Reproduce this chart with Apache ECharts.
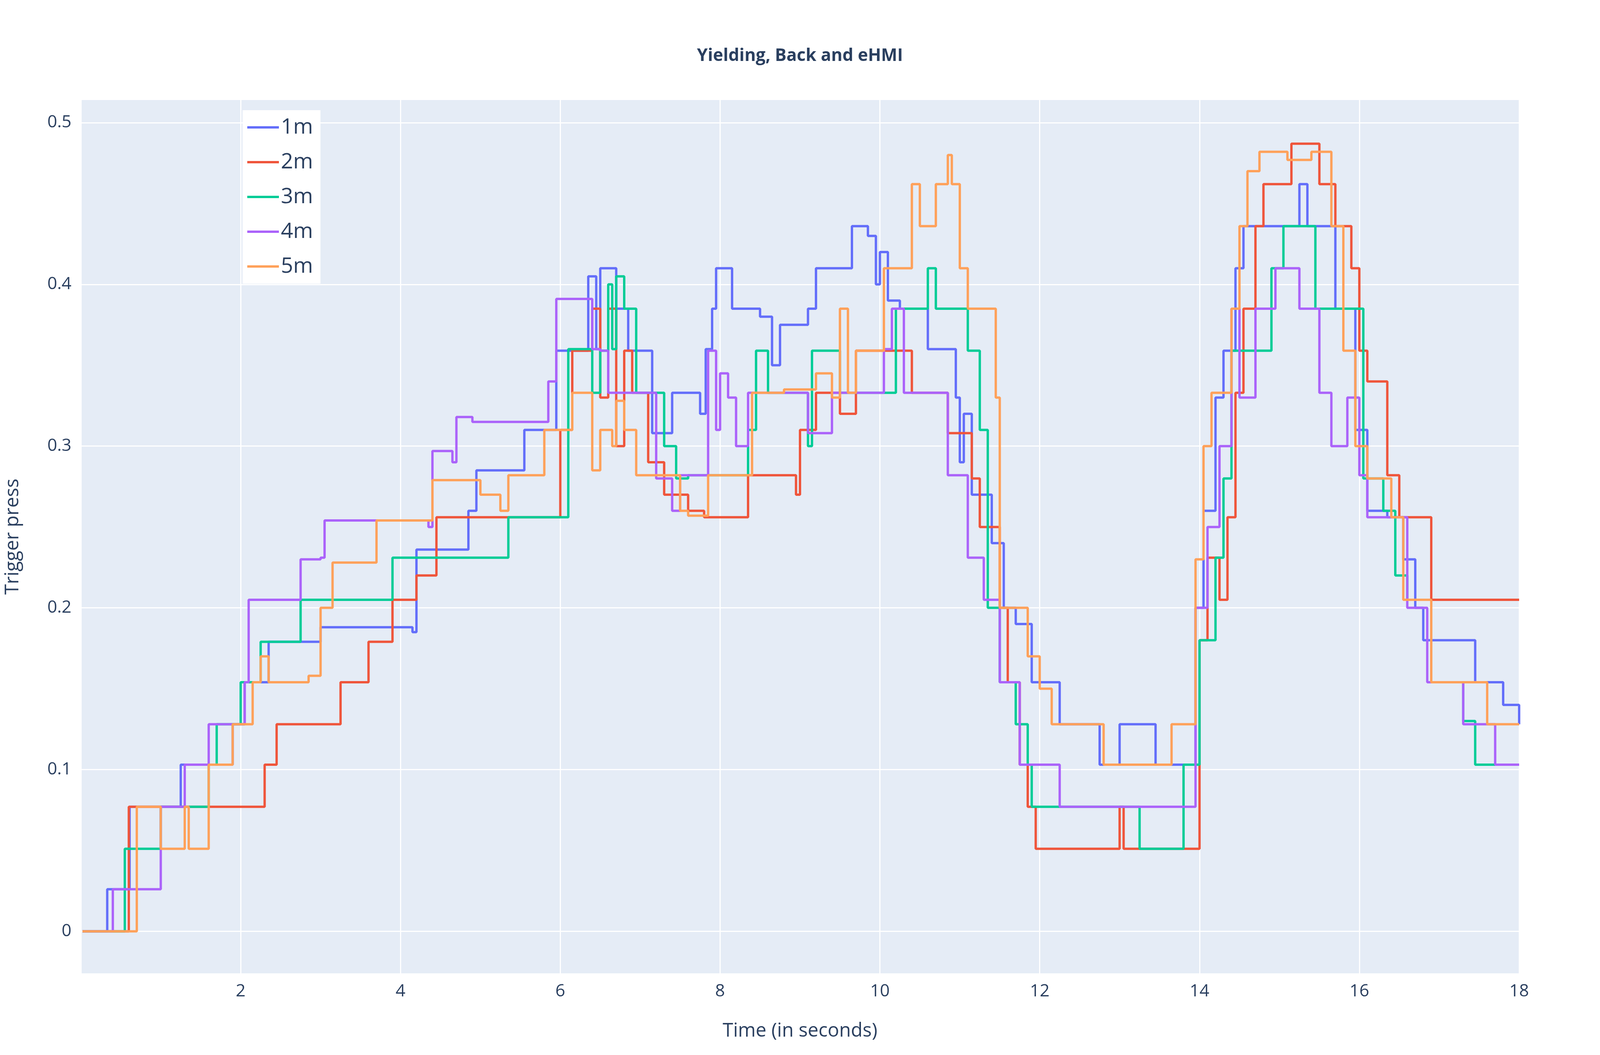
<!DOCTYPE html>
<html>
<head>
<meta charset="utf-8">
<script src="https://cdn.jsdelivr.net/npm/echarts@6/dist/echarts.min.js"></script>
<style>html,body{margin:0;padding:0;background:#fff;overflow:hidden}#chart{width:100vw;height:100vh}</style>
</head>
<body>
<div id="chart"></div>
<script>
// change points: [time, value from that time on]
var names = ['1m', '2m', '3m', '4m', '5m'];
var colors = ['#636EFA', '#EF553B', '#00CC96', '#AB63FA', '#FFA15A'];
var yTicks = [0, 0.1, 0.2, 0.3, 0.4, 0.5];

var s1m = [[0.02,0],[0.33,0.026],[0.61,0.077],[1.25,0.103],[1.9,0.128],[1.95,0.128],[2.05,0.154],[2.35,0.179],[3.0,0.188],[4.15,0.185],[4.2,0.236],[4.75,0.236],[4.85,0.26],[4.95,0.285],[5.5,0.285],[5.55,0.31],[5.8,0.31],[5.95,0.359],[6.3,0.359],[6.35,0.405],[6.45,0.36],[6.5,0.41],[6.6,0.41],[6.7,0.385],[6.8,0.385],[6.85,0.359],[7.05,0.359],[7.15,0.308],[7.35,0.308],[7.4,0.333],[7.7,0.333],[7.75,0.32],[7.82,0.36],[7.9,0.385],[7.95,0.41],[8.1,0.41],[8.15,0.385],[8.3,0.385],[8.5,0.38],[8.65,0.35],[8.75,0.375],[9.1,0.385],[9.2,0.41],[9.6,0.41],[9.65,0.436],[9.85,0.43],[9.95,0.4],[10.0,0.42],[10.1,0.39],[10.25,0.385],[10.55,0.385],[10.6,0.36],[10.9,0.36],[10.95,0.33],[11.0,0.29],[11.05,0.32],[11.15,0.27],[11.3,0.27],[11.4,0.24],[11.55,0.2],[11.7,0.19],[11.85,0.19],[11.9,0.154],[12.2,0.154],[12.25,0.128],[12.7,0.128],[12.75,0.103],[13.0,0.128],[13.4,0.128],[13.45,0.103],[13.8,0.103],[13.95,0.2],[14.05,0.26],[14.2,0.33],[14.3,0.359],[14.4,0.359],[14.45,0.41],[14.55,0.436],[15.2,0.436],[15.25,0.462],[15.35,0.436],[15.6,0.436],[15.7,0.385],[15.9,0.385],[15.95,0.31],[16.1,0.26],[16.35,0.256],[16.55,0.23],[16.7,0.2],[16.8,0.18],[17.4,0.18],[17.45,0.154],[17.7,0.154],[17.8,0.14],[18,0.128]];
var s2m = [[0.02,0],[0.55,0],[0.6,0.077],[2.25,0.077],[2.3,0.103],[2.45,0.128],[3.1,0.128],[3.25,0.154],[3.55,0.154],[3.6,0.179],[3.8,0.179],[3.9,0.205],[4.1,0.205],[4.2,0.22],[4.45,0.256],[5.3,0.256],[5.8,0.256],[6.0,0.31],[6.15,0.359],[6.35,0.359],[6.4,0.385],[6.5,0.33],[6.6,0.385],[6.7,0.3],[6.8,0.359],[6.9,0.333],[7.1,0.29],[7.3,0.27],[7.6,0.26],[7.8,0.256],[8.3,0.256],[8.35,0.282],[8.85,0.282],[8.95,0.27],[9.0,0.31],[9.2,0.333],[9.4,0.333],[9.5,0.32],[9.7,0.359],[10.3,0.359],[10.4,0.333],[10.8,0.333],[10.85,0.308],[11.1,0.308],[11.15,0.28],[11.25,0.25],[11.5,0.2],[11.6,0.154],[11.75,0.103],[11.85,0.077],[11.95,0.051],[12.95,0.051],[13.0,0.077],[13.05,0.051],[13.8,0.051],[14.0,0.18],[14.1,0.231],[14.25,0.205],[14.35,0.256],[14.45,0.333],[14.55,0.385],[14.7,0.436],[14.8,0.462],[15.1,0.462],[15.15,0.487],[15.4,0.487],[15.5,0.462],[15.7,0.436],[15.9,0.41],[16.0,0.359],[16.1,0.34],[16.25,0.34],[16.35,0.282],[16.5,0.256],[16.8,0.256],[16.9,0.205],[18,0.205]];
var s3m = [[0.02,0],[0.5,0],[0.55,0.051],[0.9,0.051],[1.0,0.077],[1.5,0.077],[1.6,0.103],[1.7,0.128],[2.0,0.154],[2.25,0.179],[2.7,0.179],[2.75,0.205],[3.8,0.205],[3.9,0.231],[5.1,0.231],[5.35,0.256],[5.8,0.256],[6.1,0.36],[6.35,0.36],[6.4,0.333],[6.5,0.359],[6.6,0.4],[6.65,0.36],[6.7,0.405],[6.8,0.385],[6.95,0.333],[7.2,0.333],[7.3,0.3],[7.45,0.28],[7.6,0.282],[8.25,0.282],[8.35,0.31],[8.45,0.359],[8.6,0.333],[8.8,0.333],[9.1,0.3],[9.15,0.359],[9.4,0.359],[9.5,0.333],[10.1,0.333],[10.2,0.385],[10.55,0.385],[10.6,0.41],[10.7,0.385],[11.05,0.385],[11.1,0.359],[11.25,0.31],[11.35,0.2],[11.5,0.154],[11.7,0.128],[11.85,0.103],[11.9,0.077],[12.9,0.077],[13.15,0.077],[13.25,0.051],[13.7,0.051],[13.8,0.103],[14.0,0.18],[14.2,0.231],[14.3,0.28],[14.4,0.359],[14.85,0.359],[14.9,0.41],[15.05,0.436],[15.35,0.436],[15.45,0.385],[15.9,0.385],[16.05,0.28],[16.3,0.26],[16.45,0.22],[16.6,0.205],[16.8,0.205],[16.9,0.154],[17.3,0.13],[17.45,0.103],[18,0.103]];
var s4m = [[0.02,0],[0.35,0],[0.4,0.026],[0.95,0.026],[1.0,0.077],[1.15,0.077],[1.3,0.103],[1.5,0.103],[1.6,0.128],[2.0,0.128],[2.05,0.154],[2.1,0.205],[2.6,0.205],[2.75,0.23],[3.0,0.231],[3.05,0.254],[4.3,0.254],[4.35,0.25],[4.4,0.297],[4.65,0.29],[4.7,0.318],[4.9,0.315],[5.8,0.315],[5.85,0.34],[5.95,0.391],[6.3,0.391],[6.4,0.36],[6.5,0.359],[6.6,0.333],[7.0,0.333],[7.2,0.28],[7.4,0.26],[7.5,0.282],[7.8,0.282],[7.85,0.359],[7.95,0.31],[8.0,0.345],[8.1,0.33],[8.2,0.3],[8.35,0.333],[9.0,0.333],[9.1,0.308],[9.4,0.333],[9.9,0.333],[10.05,0.36],[10.15,0.385],[10.3,0.333],[10.7,0.333],[10.85,0.282],[10.95,0.282],[11.1,0.231],[11.3,0.205],[11.5,0.154],[11.75,0.103],[12.2,0.103],[12.25,0.077],[13.8,0.077],[13.95,0.2],[14.1,0.25],[14.25,0.3],[14.4,0.385],[14.5,0.33],[14.7,0.385],[14.95,0.41],[15.2,0.41],[15.25,0.385],[15.4,0.385],[15.5,0.333],[15.65,0.3],[15.85,0.33],[16.0,0.282],[16.1,0.256],[16.35,0.256],[16.6,0.2],[16.85,0.154],[17.3,0.128],[17.55,0.128],[17.7,0.103],[18,0.103]];
var s5m = [[0.02,0],[0.65,0],[0.7,0.077],[0.95,0.077],[1.0,0.051],[1.2,0.051],[1.3,0.077],[1.35,0.051],[1.55,0.051],[1.6,0.103],[1.85,0.103],[1.9,0.128],[2.1,0.128],[2.15,0.154],[2.25,0.17],[2.35,0.154],[2.75,0.154],[2.85,0.158],[3.0,0.2],[3.15,0.228],[3.6,0.228],[3.7,0.254],[4.35,0.254],[4.4,0.279],[4.95,0.279],[5.0,0.27],[5.25,0.26],[5.35,0.282],[5.75,0.282],[5.8,0.31],[6.1,0.31],[6.15,0.333],[6.3,0.333],[6.4,0.285],[6.5,0.31],[6.65,0.3],[6.7,0.328],[6.8,0.31],[6.95,0.282],[7.35,0.282],[7.5,0.26],[7.6,0.257],[7.8,0.257],[7.85,0.282],[8.3,0.282],[8.4,0.333],[8.8,0.335],[9.2,0.345],[9.4,0.33],[9.5,0.385],[9.6,0.333],[9.7,0.359],[10.0,0.359],[10.05,0.41],[10.3,0.41],[10.4,0.462],[10.5,0.436],[10.65,0.436],[10.7,0.462],[10.85,0.48],[10.9,0.462],[11.0,0.41],[11.1,0.385],[11.3,0.385],[11.45,0.33],[11.5,0.2],[11.7,0.2],[11.85,0.17],[12.0,0.15],[12.15,0.128],[12.7,0.128],[12.8,0.103],[13.6,0.103],[13.65,0.128],[13.85,0.128],[13.95,0.23],[14.05,0.3],[14.15,0.333],[14.3,0.333],[14.4,0.385],[14.5,0.436],[14.6,0.47],[14.75,0.482],[14.9,0.482],[15.1,0.477],[15.4,0.482],[15.55,0.482],[15.65,0.436],[15.8,0.359],[15.95,0.3],[16.1,0.28],[16.3,0.28],[16.4,0.256],[16.55,0.205],[16.8,0.205],[16.9,0.154],[17.45,0.154],[17.6,0.128],[18,0.128]];
var seriesData = [s1m, s2m, s3m, s4m, s5m];

// sizes are given for a 4800px wide page, scaled to the real viewport
var k = window.innerWidth / 4800;
function p(v) { return Math.round(v * k); }

var chart = echarts.init(document.getElementById('chart'));
var font = '"Open Sans", "Noto Sans", sans-serif';
chart.setOption({
    backgroundColor: '#fff',
    animation: false,
    title: {
        text: 'Yielding, Back and eHMI',
        left: 'center', top: p(136),
        textStyle: {fontFamily: font, fontSize: p(52), fontWeight: 'bold', color: '#2a3f5f'}
    },
    legend: {
        data: names,
        orient: 'vertical',
        left: p(728), top: p(330),
        icon: 'rect',
        itemWidth: p(95), itemHeight: p(7), itemGap: p(36),
        backgroundColor: '#fff',
        padding: [p(18), p(22), p(18), p(14)],
        textStyle: {fontFamily: font, fontSize: p(64), color: '#2a3f5f', lineHeight: p(68)}
    },
    grid: {left: p(242), right: p(242), top: p(300), bottom: p(245), backgroundColor: '#E5ECF6', show: true, borderWidth: 0},
    xAxis: {
        type: 'value', min: 0, max: 18, interval: 2,
        name: 'Time (in seconds)', nameLocation: 'middle', nameGap: p(145),
        nameTextStyle: {fontFamily: font, fontSize: p(58), color: '#2a3f5f'},
        axisLine: {show: false}, axisTick: {show: false},
        axisLabel: {fontFamily: font, fontSize: p(52), color: '#2a3f5f', margin: p(28),
            formatter: function (v) { return v === 0 ? '' : v; }},
        splitLine: {lineStyle: {color: '#fff', width: p(3)}}
    },
    yAxis: {
        type: 'value', min: -0.026, max: 0.514,
        name: 'Trigger press', nameLocation: 'middle', nameGap: p(175),
        nameTextStyle: {fontFamily: font, fontSize: p(58), color: '#2a3f5f'},
        axisLine: {show: false},
        axisTick: {show: false, customValues: yTicks},
        axisLabel: {fontFamily: font, fontSize: p(52), color: '#2a3f5f', margin: p(28), customValues: yTicks,
            formatter: function (v) { return v === 0 ? '0' : v.toFixed(1); }},
        splitLine: {lineStyle: {color: '#fff', width: p(3)}}
    },
    series: names.map(function (n, i) {
        return {
            name: n, type: 'line', step: 'end', data: seriesData[i],
            showSymbol: false, color: colors[i],
            lineStyle: {width: p(7), color: colors[i]}
        };
    })
});
</script>
</body>
</html>
